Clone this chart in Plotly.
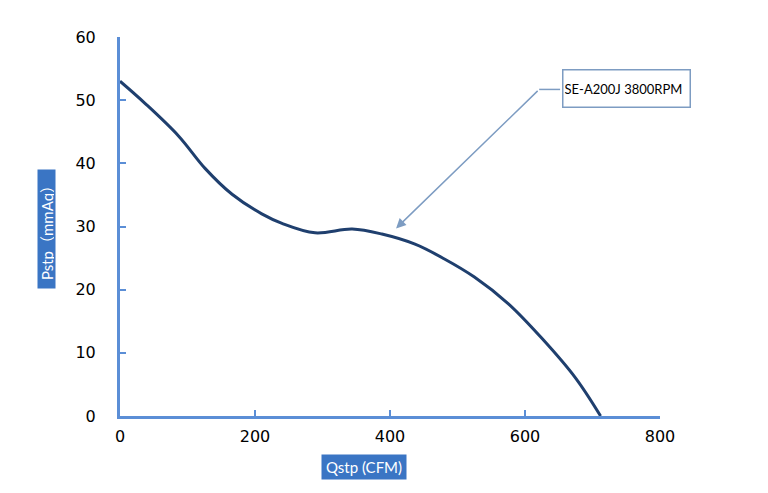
import plotly.graph_objects as go

# fan curve
qstp = [0, 37, 87, 126, 166, 210, 240, 289, 344, 388, 437, 480, 525, 575, 625, 675, 712]
pstp = [53, 49.5, 44.3, 39.2, 35.1, 32.0, 30.5, 29.0, 29.6, 28.8, 27.2, 24.9, 22.0, 17.8, 12.3, 6.0, 0]

x_ticks = [0, 200, 400, 600, 800]
y_ticks = [0, 10, 20, 30, 40, 50, 60]

label = 'SE-A200J 3800RPM'
axis_blue = '#5B8ED6'
box_blue = '#3A75C4'
leader = '#7D9CC2'

fig = go.Figure()
fig.add_trace(go.Scatter(x=qstp, y=pstp, mode='lines',
                         line=dict(color='#1F3F6E', width=3, shape='spline', smoothing=1.0),
                         showlegend=False, hoverinfo='skip'))

fig.update_layout(
    width=768, height=493,
    margin=dict(l=112, r=116, t=29, b=85),
    plot_bgcolor='white',
    paper_bgcolor='white',
    font=dict(family='DejaVu Sans', size=16, color='black'),
)
fig.update_xaxes(
    range=[0, 800], tickvals=x_ticks, showgrid=False, zeroline=False,
    showline=True, linecolor=axis_blue, linewidth=3,
    ticks='inside', ticklen=6, tickwidth=2, tickcolor=axis_blue,
    ticklabelstandoff=4,
)
fig.update_yaxes(
    range=[0, 60], tickvals=y_ticks, showgrid=False, zeroline=False,
    showline=True, linecolor=axis_blue, linewidth=3,
    ticks='inside', ticklen=6, tickwidth=2, tickcolor=axis_blue,
    ticklabelstandoff=18,
)

# axis titles as blue boxes
fig.add_annotation(xref='paper', yref='paper', x=(362 - 118) / 540, y=-(466 - 415) / 379,
                   xanchor='center', yanchor='middle',
                   text='Qstp (CFM)', showarrow=False,
                   font=dict(family='Lato', size=15, color='white'),
                   bgcolor=box_blue, width=82, height=22, borderpad=1)
fig.add_annotation(xref='paper', yref='paper', x=-(118 - 44) / 540, y=(415 - 228) / 379,
                   xanchor='center', yanchor='middle',
                   text='Pstp（mmAq）', showarrow=False, textangle=-90,
                   font=dict(family='Lato, Noto Sans CJK SC', size=15, color='white'),
                   bgcolor=box_blue, width=116, height=15, borderpad=1)

# callout with bent leader line
fig.add_shape(type='line', x0=621, y0=51.7, x1=652, y1=51.7,
              line=dict(color=leader, width=1.5))
fig.add_annotation(x=409, y=29.7, ax=621, ay=51.7, axref='x', ayref='y',
                   text='', showarrow=True, arrowhead=2, arrowsize=1.3,
                   arrowwidth=1.5, arrowcolor=leader)
fig.add_annotation(x=751, y=51.8, text=label, showarrow=False,
                   font=dict(family='Lato', size=13, color='black'),
                   bordercolor=leader, borderwidth=1.5, bgcolor='white',
                   width=124, height=34, align='left')

fig.write_html('out.html')
